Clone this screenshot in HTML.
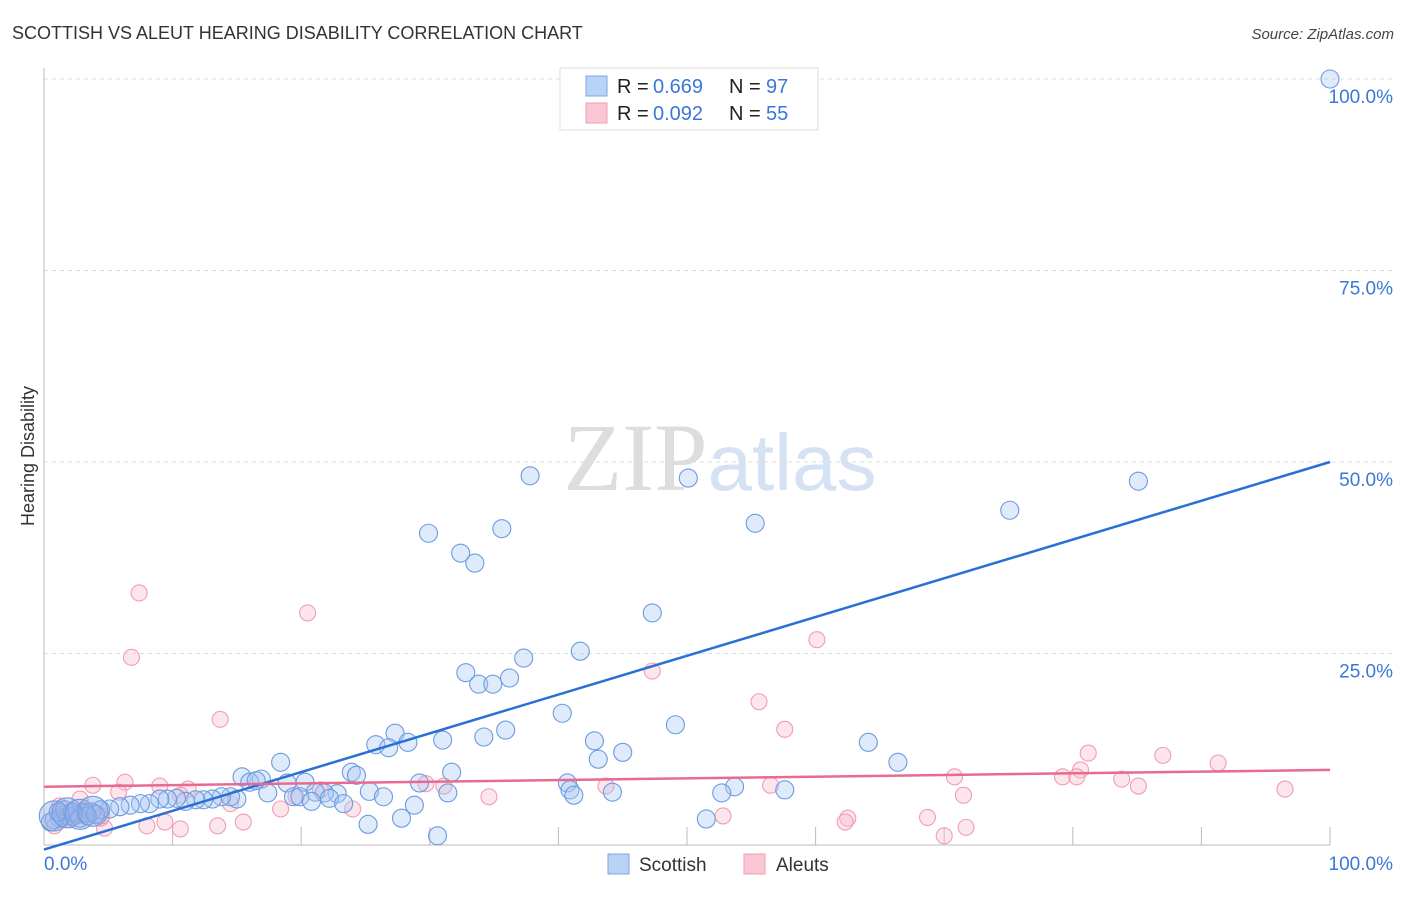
<!DOCTYPE html>
<html><head><meta charset="utf-8"><style>
body{margin:0;background:#fff;font-family:"Liberation Sans",sans-serif}
</style></head><body>
<svg width="1406" height="892" xmlns="http://www.w3.org/2000/svg" font-family="Liberation Sans, sans-serif">
<text x="12" y="39" font-size="18" fill="#333">SCOTTISH VS ALEUT HEARING DISABILITY CORRELATION CHART</text>
<text x="1394" y="39" font-size="15" fill="#444" font-style="italic" text-anchor="end">Source: ZipAtlas.com</text>
<text x="720" y="490" font-size="96" text-anchor="middle"><tspan fill="#ddd" font-family="Liberation Serif, serif">ZIP</tspan><tspan fill="#d4e2f4" font-size="80">atlas</tspan></text>
<g id="grid"></g>
<g id="axes"></g>
<text transform="translate(34,456) rotate(-90)" font-size="18" fill="#333" text-anchor="middle">Hearing Disability</text>
<g id="pink"></g>
<g id="blue"></g>
<g id="lines"></g>
<g>
<rect x="560" y="68" width="258" height="62" fill="#fff" stroke="#ddd"/>
<rect x="586" y="76" width="21" height="20" fill="#b9d3f5" stroke="#7aa6e6"/>
<text x="617" y="93" font-size="20" fill="#222">R =</text>
<text x="653" y="93" font-size="20" fill="#3a78d8">0.669</text>
<text x="729" y="93" font-size="20" fill="#222">N =</text>
<text x="766" y="93" font-size="20" fill="#3a78d8">97</text>
<rect x="586" y="103" width="21" height="20" fill="#f9c6d4" stroke="#ef9db5"/>
<text x="617" y="120" font-size="20" fill="#222">R =</text>
<text x="653" y="120" font-size="20" fill="#3a78d8">0.092</text>
<text x="729" y="120" font-size="20" fill="#222">N =</text>
<text x="766" y="120" font-size="20" fill="#3a78d8">55</text>
</g>
<g>
<rect x="608" y="854" width="21" height="20" fill="#b9d3f5" stroke="#7aa6e6"/>
<text x="639" y="871" font-size="19" fill="#333">Scottish</text>
<rect x="744" y="854" width="21" height="20" fill="#f9c6d4" stroke="#ef9db5"/>
<text x="776" y="871" font-size="19" fill="#333">Aleuts</text>
</g>
</svg>
<script>
const yTicks=[25,50,75,100];
const yTickLabels=["25.0%","50.0%","75.0%","100.0%"];
const xTickLabels=["0.0%","100.0%"];
const blueX=[100,37.8,50.1,85.1,75.1,55.3,29.9,35.6,32.4,33.5,47.3,41.7,37.3,32.8,33.8,34.9,36.2,40.3,49.1,35.9,34.2,31.0,27.3,25.8,26.8,28.3,42.8,45.0,43.1,64.1,66.4,18.4,31.7,23.9,24.3,15.4,16.9,16.0,16.5,18.9,20.3,29.2,40.7,53.7,57.6,40.9,44.2,52.7,31.4,25.3,22.8,21.8,21.1,17.4,19.4,19.9,41.2,26.4,22.2,20.8,23.3,28.8,25.2,27.8,30.6,51.5,15.0,14.5,13.8,13.1,12.4,11.8,11.0,10.3,9.6,9.0,8.2,7.5,6.7,5.9,5.1,4.4,3.7,3.1,2.5,1.9,1.2,0.8,0.5,1.1,1.6,2.2,2.8,3.4,4.0];
const blueY=[100,48.2,47.9,47.5,43.7,42.0,40.7,41.3,38.1,36.8,30.3,25.3,24.4,22.5,21.0,21.0,21.8,17.2,15.7,15.0,14.1,13.7,14.6,13.1,12.7,13.4,13.6,12.1,11.2,13.4,10.8,10.8,9.5,9.5,9.1,8.9,8.6,8.2,8.4,8.1,8.2,8.1,8.1,7.6,7.2,7.2,6.9,6.8,6.8,7.0,6.7,6.8,6.9,6.8,6.3,6.3,6.5,6.3,6.1,5.7,5.4,5.2,2.7,3.5,1.2,3.4,6.0,6.3,6.3,6.0,5.9,5.9,5.7,6.1,6.0,6.0,5.4,5.4,5.2,5.0,4.7,4.6,4.3,4.2,3.9,3.8,3.5,3.3,3.0,4.3,4.6,4.3,3.5,3.8,4.0];
const pinkX=[7.4,20.5,6.8,60.1,47.3,13.7,55.6,57.6,81.2,87.0,91.3,80.6,79.2,80.3,83.8,70.8,85.1,96.5,71.5,56.5,43.7,29.7,31.1,11.2,9.0,6.3,3.8,5.8,10.6,14.5,18.4,24.0,34.6,52.8,62.5,68.7,71.7,70.0,8.0,10.6,13.5,15.5,4.7,2.8,4.4,1.2,0.8,2.0,9.4,19.6,21.5,62.3,1.5,3.0,4.5];
const pinkY=[32.9,30.3,24.5,26.8,22.7,16.4,18.7,15.1,12.0,11.7,10.7,9.8,8.9,8.9,8.6,8.9,7.7,7.3,6.5,7.8,7.7,8.0,7.7,7.3,7.7,8.2,7.8,6.9,6.5,5.4,4.7,4.7,6.3,3.8,3.5,3.6,2.3,1.2,2.5,2.1,2.5,3.0,2.2,6.0,3.5,5.1,2.5,3.3,3.0,6.3,7.2,3.0,4.0,4.5,3.8];
const bigX=[0.8,1.8,2.8,3.8];
const bigY=[3.8,4.2,4.0,4.4];
const blueLine=[-0.6,50.0];
const pinkLine=[7.6,9.8];
const NS="http://www.w3.org/2000/svg";
const X=v=>44+v*12.86, Y=v=>845-v*7.66;
function mk(tag,attrs,parent){const e=document.createElementNS(NS,tag);for(const k in attrs)e.setAttribute(k,attrs[k]);parent.appendChild(e);return e;}
const grid=document.getElementById('grid'),axes=document.getElementById('axes');
yTicks.forEach((t,i)=>{
 const l=mk('line',{x1:44,x2:1395,y1:Y(t),y2:Y(t),stroke:'#ddd','stroke-dasharray':'4,4'},grid);
 
 
 const tx=mk('text',{x:1393,y:Y(t)+24,'font-size':19,fill:'#3a78d8','text-anchor':'end'},axes);
 tx.textContent=yTickLabels[i];
 
 
});
mk('line',{x1:44,x2:44,y1:68,y2:845,stroke:'#bbb'},axes);
mk('line',{x1:44,x2:1330,y1:845,y2:845,stroke:'#bbb'},axes);
for(let i=1;i<=10;i++){const t=mk('line',{x1:X(i*10),x2:X(i*10),y1:827,y2:845,stroke:'#bbb'},axes);}
const xl0=mk('text',{x:44,y:870,'font-size':19,fill:'#3a78d8'},axes);xl0.textContent=xTickLabels[0];


const xl1=mk('text',{x:1393,y:870,'font-size':19,fill:'#3a78d8','text-anchor':'end'},axes);xl1.textContent=xTickLabels[1];


const pg=document.getElementById('pink'),bg=document.getElementById('blue');
pinkX.forEach((v,i)=>{const c=mk('circle',{cx:X(v),cy:Y(pinkY[i]),r:8,fill:'rgba(249,190,208,0.4)',stroke:'#ef9db5','stroke-width':1.1},pg);
 
 });
blueX.forEach((v,i)=>{const c=mk('circle',{cx:X(v),cy:Y(blueY[i]),r:9,fill:'rgba(170,200,242,0.38)',stroke:'#6b9be0','stroke-width':1.1},bg);
 
 });
bigX.forEach((v,i)=>{const c=mk('circle',{cx:X(v),cy:Y(bigY[i]),r:15,fill:'rgba(140,170,230,0.4)',stroke:'#6b9be0','stroke-width':1.1},bg);
 
 });
const lg=document.getElementById('lines');
const bl=mk('line',{x1:X(0),y1:Y(blueLine[0]),x2:X(100),y2:Y(blueLine[1]),stroke:'#2a6fd6','stroke-width':2.5},lg);


const pl=mk('line',{x1:X(0),y1:Y(pinkLine[0]),x2:X(100),y2:Y(pinkLine[1]),stroke:'#e86a93','stroke-width':2.5},lg);


</script>
</body></html>
